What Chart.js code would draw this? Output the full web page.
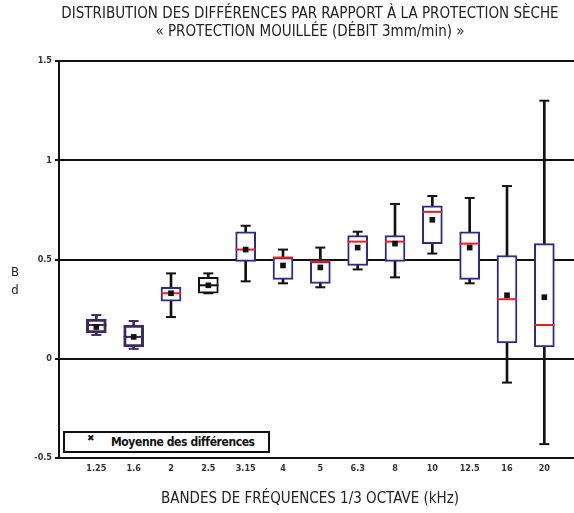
<!DOCTYPE html>
<html>
<head>
<meta charset="utf-8">
<script src="https://cdn.jsdelivr.net/npm/chart.js@4.4.0/dist/chart.umd.min.js"></script>
<style>
html, body { margin: 0; padding: 0; background: #fff; overflow: hidden; width: 574px; height: 513px; }
#wrap { position: relative; width: 631px; height: 513px; }
#yunit { position: absolute; left: 11px; top: 263px; font: 13px 'DejaVu Sans Condensed', sans-serif; color: #222; line-height: 18px; text-align: center; }
#leg { position: absolute; left: 63px; top: 431px; width: 203px; height: 18px; border: 2px solid #111; background: #fff;
       font: bold 12px 'DejaVu Sans Condensed', sans-serif; letter-spacing: -0.4px; color: #111; line-height: 18px; }
#leg .mk { position: absolute; left: 22px; top: 0; font: bold 9px 'DejaVu Sans', sans-serif; }
#leg .tx { position: absolute; left: 46px; top: 0; }
</style>
</head>
<body>
<div id="wrap">
  <canvas id="myChart" width="631" height="513"></canvas>
  <div id="yunit">B<br>d</div>
  <div id="leg"><span class="mk">✖</span><span class="tx">Moyenne des différences</span></div>
</div>
<script>
// bandes 1/3 octave (kHz)
var bands = ['1.25', '1.6', '2', '2.5', '3.15', '4', '5', '6.3', '8', '10', '12.5', '16', '20'];
// valeurs (dB)
var whiskerMax = [0.22, 0.19, 0.43, 0.43, 0.67, 0.55, 0.56, 0.64, 0.78, 0.82, 0.81, 0.87, 1.30];
var q3 = [0.20, 0.17, 0.36, 0.41, 0.64, 0.51, 0.49, 0.62, 0.62, 0.77, 0.64, 0.52, 0.58];
var median = [0.17, 0.11, 0.33, 0.37, 0.55, 0.51, 0.49, 0.59, 0.59, 0.74, 0.58, 0.30, 0.17];
var q1 = [0.13, 0.06, 0.29, 0.33, 0.49, 0.40, 0.38, 0.47, 0.49, 0.58, 0.40, 0.08, 0.06];
var whiskerMin = [0.12, 0.05, 0.21, 0.33, 0.39, 0.38, 0.36, 0.45, 0.41, 0.53, 0.38, -0.12, -0.43];
var mean = [0.16, 0.11, 0.33, 0.37, 0.55, 0.47, 0.46, 0.56, 0.58, 0.70, 0.56, 0.32, 0.31];
var yTicks = [-0.5, 0, 0.5, 1, 1.5];

var titleLines = ['DISTRIBUTION DES DIFFÉRENCES PAR RAPPORT À LA PROTECTION SÈCHE', '« PROTECTION MOUILLÉE (DÉBIT 3mm/min) »'];
var xTitle = 'BANDES DE FRÉQUENCES 1/3 OCTAVE (kHz)';

var NAVY = '#2b2b8c', RED = '#e8221b', PURPLE = '#3b2b5e', BLACK = '#111';
var narrow = "'DejaVu Sans Condensed', sans-serif";

// couleurs par bande (les deux premieres sont dessinees en violet fonce, 2.5 en noir)
var boxColor = bands.map(function (b, i) { return i < 2 ? PURPLE : (i === 3 ? BLACK : NAVY); });
var medColor = bands.map(function (b, i) { return i < 2 ? PURPLE : (i === 3 ? BLACK : RED); });
var whiskColor = bands.map(function (b, i) { return i < 2 ? PURPLE : BLACK; });
var boxWidth = bands.map(function (b, i) { return i < 2 ? 3 : 2; });

// une categorie vide a gauche, deux a droite (le graphique est coupe a droite)
var pad = function (arr) { return [null].concat(arr, [null, null]); };
var pad2 = function (arr) { return [arr[0]].concat(arr, [arr[0], arr[0]]); };
var labels = [''].concat(bands, ['', '']);

var whiskers = pad(bands.map(function (b, i) { return [whiskerMin[i], whiskerMax[i]]; }));
var boxes = pad(bands.map(function (b, i) { return [q1[i], q3[i]]; }));

var myChart = new Chart(document.getElementById('myChart').getContext('2d'), {
    type: 'bar',
    data: {
        labels: labels,
        datasets: [
            { type: 'bar', data: whiskers, backgroundColor: pad2(whiskColor), barThickness: 2, grouped: false, order: 5 },
            { type: 'line', data: pad(whiskerMax), showLine: false, pointStyle: 'line', pointRadius: 5, pointBorderWidth: 2, pointBorderColor: pad2(whiskColor), order: 4 },
            { type: 'line', data: pad(whiskerMin), showLine: false, pointStyle: 'line', pointRadius: 5, pointBorderWidth: 2, pointBorderColor: pad2(whiskColor), order: 4 },
            { type: 'bar', data: boxes, backgroundColor: '#fff', borderColor: pad2(boxColor), borderWidth: pad2(boxWidth), borderSkipped: false, barThickness: 20, grouped: false, order: 3 },
            { type: 'line', data: pad(median), showLine: false, pointStyle: 'line', pointRadius: 10, pointBorderWidth: 2, pointBorderColor: pad2(medColor), order: 2 },
            { type: 'line', data: pad(mean), showLine: false, pointStyle: 'rect', pointRadius: 4, pointBorderWidth: 0, pointBackgroundColor: BLACK, pointBorderColor: BLACK, order: 1 }
        ]
    },
    options: {
        responsive: false,
        animation: false,
        layout: { padding: { left: -11, right: 0, top: 0, bottom: 0 } },
        plugins: {
            legend: { display: false },
            tooltip: { enabled: false },
            title: {
                display: true, text: titleLines, color: '#222',
                font: { family: narrow, size: 15, weight: 'normal', lineHeight: 1.2 },
                padding: { top: 5, bottom: 20 }
            },
            subtitle: {
                display: true, position: 'bottom', text: xTitle, color: '#222',
                font: { family: narrow, size: 15, weight: 'normal', lineHeight: 1.2 },
                padding: { top: 12, bottom: 5 }
            }
        },
        scales: {
            x: {
                offset: false,
                grid: { display: false, drawTicks: false },
                border: { color: BLACK, width: 2 },
                ticks: { autoSkip: false, maxRotation: 0, padding: 5, color: '#333', font: { family: narrow, size: 9, weight: 'bold' } },
                afterFit: function (scale) { scale.height = 20; }
            },
            y: {
                min: -0.5, max: 1.5,
                afterBuildTicks: function (scale) { scale.ticks = yTicks.map(function (v) { return { value: v }; }); },
                grid: { color: BLACK, lineWidth: 2, drawTicks: true, tickLength: 4, tickColor: BLACK },
                border: { color: BLACK, width: 2 },
                ticks: { padding: 3, color: '#333', font: { family: narrow, size: 9, weight: 'bold' }, callback: function (v) { return String(v); } },
                afterFit: function (scale) { scale.width = 70; }
            }
        }
    }
});
</script>
</body>
</html>
